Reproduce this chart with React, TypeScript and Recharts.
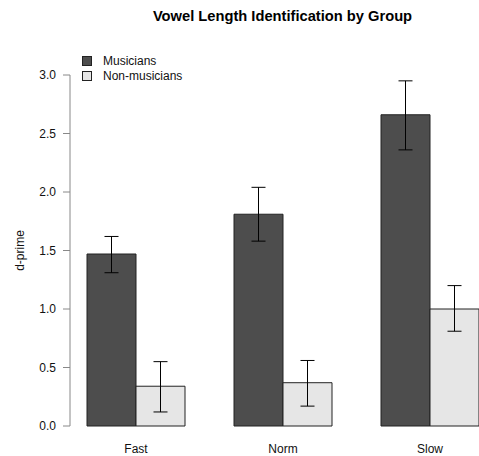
import { BarChart, Bar, XAxis, YAxis, ErrorBar, Legend, Label } from 'recharts';

const groups = ['Fast', 'Norm', 'Slow'];
const musicians = [1.47, 1.81, 2.66];
const musiciansLow = [1.31, 1.58, 2.36];
const musiciansHigh = [1.62, 2.04, 2.95];
const nonMusicians = [0.34, 0.37, 1.0];
const nonMusiciansLow = [0.12, 0.17, 0.81];
const nonMusiciansHigh = [0.55, 0.56, 1.2];
const yTicks = [0, 0.5, 1.0, 1.5, 2.0, 2.5, 3.0];

const FONT = '"Liberation Sans", Arial, sans-serif';
const DARK = '#4d4d4d';
const LIGHT = '#e6e6e6';

const data = groups.map((g, i) => ({
  group: g,
  mus: musicians[i],
  musErr: [musicians[i] - musiciansLow[i], musiciansHigh[i] - musicians[i]],
  non: nonMusicians[i],
  nonErr: [nonMusicians[i] - nonMusiciansLow[i], nonMusiciansHigh[i] - nonMusicians[i]],
}));

function LegendBox({ payload }: any) {
  return (
    <div style={{ fontFamily: FONT, fontSize: 12, color: '#111' }}>
      {(payload || []).map((p: any) => (
        <div key={p.value} style={{ display: 'flex', alignItems: 'center', height: 14.5 }}>
          <span
            style={{
              display: 'inline-block',
              width: 8,
              height: 8,
              background: p.color,
              border: '1px solid #222',
              marginRight: 11,
            }}
          />
          {p.value}
        </div>
      ))}
    </div>
  );
}

export default function App() {
  return (
    <div style={{ position: 'fixed', left: 0, top: 0, width: 479, height: 456, overflow: 'hidden', background: '#fff' }}>
      <div
        style={{
          position: 'absolute',
          left: 0,
          top: 8,
          width: 565,
          textAlign: 'center',
          fontFamily: FONT,
          fontWeight: 'bold',
          fontSize: 14.7,
          color: '#000',
        }}
      >
        Vowel Length Identification by Group
      </div>
      <BarChart
        width={520}
        height={456}
        data={data}
        margin={{ top: 46, right: 16.5, bottom: 0, left: 0 }}
        barCategoryGap={24.5}
        barGap={0}
      >
        <XAxis
          dataKey="group"
          axisLine={false}
          tickLine={false}
          height={30}
          padding={{ left: -7.5, right: 0 }}
          tickMargin={12}
          tick={{ fontFamily: FONT, fontSize: 12, fill: '#111' }}
        />
        <YAxis
          type="number"
          domain={[0, 3]}
          ticks={yTicks}
          tickFormatter={(v: number) => v.toFixed(1)}
          width={70}
          tickSize={7}
          tickMargin={7}
          stroke="#888"
          tick={{ fontFamily: FONT, fontSize: 12, fill: '#111' }}
        >
          <Label
            value="d-prime"
            content={({ viewBox }: any) => {
              const cy = viewBox.y + viewBox.height / 2;
              return (
                <text
                  x={20}
                  y={cy}
                  transform={`rotate(-90, 20, ${cy})`}
                  textAnchor="middle"
                  dominantBaseline="central"
                  fontFamily={FONT}
                  fontSize={12}
                  fill="#111"
                >
                  d-prime
                </text>
              );
            }}
          />
        </YAxis>
        <Legend
          verticalAlign="top"
          align="left"
          content={<LegendBox />}
          wrapperStyle={{ position: 'absolute', left: 82, top: 54, width: 120 }}
        />
        <Bar dataKey="mus" name="Musicians" fill={DARK} stroke="#222" strokeWidth={1} isAnimationActive={false}>
          <ErrorBar dataKey="musErr" width={7} stroke="#000" strokeWidth={1} isAnimationActive={false} />
        </Bar>
        <Bar dataKey="non" name="Non-musicians" fill={LIGHT} stroke="#222" strokeWidth={1} isAnimationActive={false}>
          <ErrorBar dataKey="nonErr" width={7} stroke="#000" strokeWidth={1} isAnimationActive={false} />
        </Bar>
      </BarChart>
    </div>
  );
}
